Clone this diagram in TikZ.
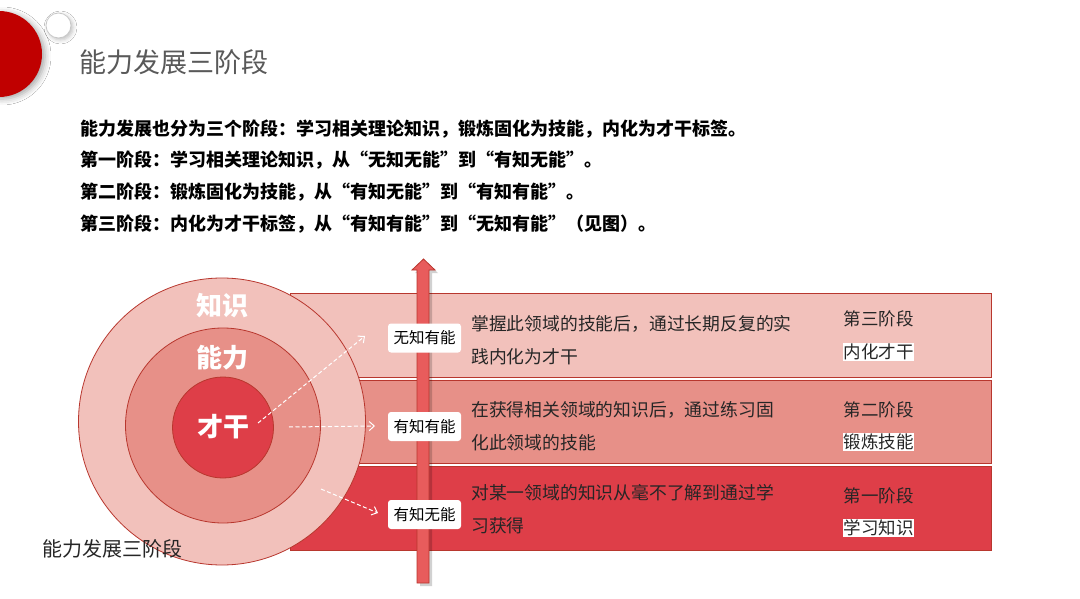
\documentclass[tikz,border=0pt]{standalone}
\usepackage{fontspec}
\setmainfont{Noto Sans CJK SC}
\usetikzlibrary{arrows.meta,shadows.blur}
\definecolor{lightband}{HTML}{F2C1BB}
\definecolor{midband}{HTML}{E79088}
\definecolor{darkband}{HTML}{DE3E48}
\definecolor{edgered}{HTML}{B8372E}
\definecolor{arrowred}{HTML}{E85C5C}
\definecolor{titlegray}{HTML}{595959}
\definecolor{deepred}{HTML}{C00000}
\definecolor{txt}{HTML}{262626}
\begin{document}
\begin{tikzpicture}[x=1pt,y=-1pt,
  band/.style={draw=edgered,line width=0.8pt},
  ring/.style={draw=edgered,line width=0.8pt},
  bodyline/.style={anchor=west,inner sep=0pt,font=\fontsize{18}{20}\selectfont\bfseries,text=black},
  ringtext/.style={inner sep=0pt,text=white,font=\fontsize{26}{28}\selectfont\bfseries},
  tag/.style={fill=white,rounded corners=3pt,minimum width=73pt,minimum height=29pt,inner sep=0pt,font=\fontsize{15.5}{17}\selectfont,text=black},
  desc/.style={anchor=west,inner sep=0pt,align=left,font=\fontsize{17.8}{33}\selectfont,text=txt},
  stagetxt/.style={inner sep=0pt,font=\fontsize{17.5}{20}\selectfont,text=txt},
  hl/.style={fill=white,inner sep=0.6pt,font=\fontsize{17.5}{20}\selectfont,text=txt},
  flow/.style={draw=white,line width=1pt,dash pattern=on 4pt off 2.5pt,-{Straight Barb[length=5pt,width=9pt]}}]
\useasboundingbox (0,0) rectangle (1080,599);
\fill[white] (0,0) rectangle (1080,599);

% decorative circles top-left
\fill[deepred,blur shadow={shadow xshift=3pt,shadow yshift=-2pt,shadow blur radius=6pt,shadow opacity=35}] (-1,54) circle (43);
\draw[draw={rgb,255:red,200;green,200;blue,200},fill=white,line width=0.8pt,blur shadow={shadow xshift=2pt,shadow yshift=-2pt,shadow blur radius=4pt,shadow opacity=25}] (58.5,25.5) circle (12.5);

% title
\node[anchor=west,inner sep=0pt,text=titlegray,font=\fontsize{27}{30}\selectfont] (title) at (79,62) {能力发展三阶段};

% body
\node[bodyline] (l1) at (80,129) {能力发展也分为三个阶段：学习相关理论知识，锻炼固化为技能，内化为才干标签。};
\node[bodyline] (l2) at (80,160) {第一阶段：学习相关理论知识，从“无知无能”到“有知无能”。};
\node[bodyline] (l3) at (80,192) {第二阶段：锻炼固化为技能，从“有知无能”到“有知有能”。};
\node[bodyline] (l4) at (80,224) {第三阶段：内化为才干标签，从“有知有能”到“无知有能”（见图）。};

% bands
\draw[band,fill=lightband] (290,293) rectangle (991,377);
\draw[band,fill=midband] (290,380) rectangle (991,463);
\draw[band,fill=darkband] (290,466) rectangle (991,550);

% vertical arrow with shadow
\fill[black,opacity=0.18] (432,586) -- (432,273) -- (438,273) -- (426.5,262) -- (415,273) -- (420,273) -- (420,586) -- cycle;
\draw[draw=edgered,fill=arrowred,line width=0.8pt] (417,583) -- (417,270) -- (412,270) -- (423.5,259) -- (435,270) -- (429,270) -- (429,583) -- cycle;

% rings
\draw[ring,fill=lightband] (222,421.5) circle (143.5);
\draw[ring,fill=midband] (223,425.5) circle (97.5);
\draw[ring,fill=darkband] (223,427.5) circle (50.5);

\node[ringtext] (zhishi) at (222.5,306) {知识};
\node[ringtext] (nengli) at (222.5,358) {能力};
\node[ringtext] (caigan) at (223,427) {才干};

% tags on the arrow
\node[tag] (t3) at (424.5,338) {无知有能};
\node[tag] (t2) at (424.5,426.5) {有知有能};
\node[tag] (t1) at (424.5,514.5) {有知无能};

% dashed flows
\coordinate (s3) at (258,423);
\coordinate (e3) at (365,336);
\coordinate (s2) at (289,427);
\coordinate (e2) at (375,426);
\coordinate (s1) at (321,489);
\coordinate (e1) at (378,513);
\draw[flow] (s3) -- (e3);
\draw[flow] (s2) -- (e2);
\draw[flow] (s1) -- (e1);

% descriptions
\node[desc] (d3) at (471,340) {掌握此领域的技能后，通过长期反复的实\\践内化为才干};
\node[desc] (d2) at (471,426) {在获得相关领域的知识后，通过练习固\\化此领域的技能};
\node[desc] (d1) at (471,509) {对某一领域的知识从毫不了解到通过学\\习获得};

% stage names
\node[stagetxt] (p3) at (878.5,319) {第三阶段};
\node[hl] (q3) at (878.5,352) {内化才干};
\node[stagetxt] (p2) at (878.5,410) {第二阶段};
\node[hl] (q2) at (878.5,442) {锻炼技能};
\node[stagetxt] (p1) at (878.5,496) {第一阶段};
\node[hl] (q1) at (878.5,528) {学习知识};

% caption
\node[anchor=west,inner sep=0pt,text=txt,font=\fontsize{20}{22}\selectfont] (cap) at (42,549) {能力发展三阶段};
\end{tikzpicture}
\end{document}
